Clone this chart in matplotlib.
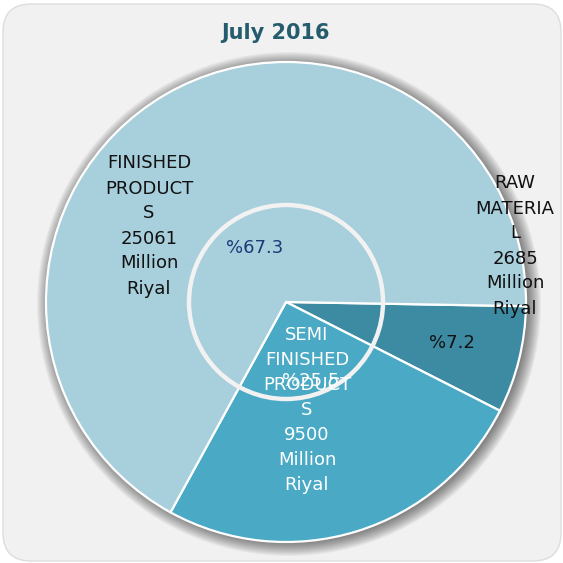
import numpy as np
import matplotlib
matplotlib.use("Agg")
import matplotlib.pyplot as plt
from matplotlib.patches import FancyBboxPatch, Circle

# ---- data ----
categories = ["RAW\nMATERIA\nL", "SEMI\nFINISHED\nPRODUCT\nS", "FINISHED\nPRODUCT\nS"]
values = [2685, 9500, 25061]
percent_labels = ["%7.2", "%25.5", "%67.3"]
unit = "Million\nRiyal"
title = "July 2016"
colors = ["#3d8ba3", "#4aaac5", "#a8cfdc"]
label_colors = ["#111111", "#ffffff", "#111111"]
pct_colors = ["#111111", "#ffffff", "#1b3a78"]

W = H = 563
fig = plt.figure(figsize=(5.63, 5.63), dpi=100)
fig.patch.set_facecolor("white")
ax = fig.add_axes([0, 0, 1, 1])

# background rounded panel
bg = FancyBboxPatch((3, 4), W - 5, H - 6, boxstyle="round,pad=0,rounding_size=28",
                    facecolor="#f1f1f1", edgecolor="#dddddd", linewidth=1.0, zorder=0)
ax.add_patch(bg)

cx, cy, R = 286, 302, 240

# soft shadow
for i in range(14):
    ax.add_patch(Circle((cx + 3, cy + 2), R + 12 - i, facecolor="black",
                        edgecolor="none", alpha=0.04, zorder=1))

# pie (y axis inverted -> counterclock=True draws clockwise visually)
wedges, _ = ax.pie(values, colors=colors, startangle=1, counterclock=True,
                   center=(cx, cy), radius=R, frame=True,
                   wedgeprops=dict(edgecolor="white", linewidth=1.6, zorder=2))
ax.set_xlim(0, W)
ax.set_ylim(H, 0)
ax.set_aspect("equal")
ax.axis("off")

# inner ring
ax.add_patch(Circle((cx, cy), 97, facecolor="none", edgecolor="#f2f2f2",
                    linewidth=3.2, zorder=4))

# percentages at wedge mid-angles
pct_r = [171, 83, 62]
for w, p, c, r in zip(wedges, percent_labels, pct_colors, pct_r):
    ang = np.deg2rad((w.theta1 + w.theta2) / 2)
    x = cx + r * np.cos(ang)
    y = cy + r * np.sin(ang)
    ax.text(x, y, p, ha="center", va="center", fontsize=13, color=c,
            family="DejaVu Sans", zorder=5)

# category labels
label_pos = [(515, 246), (307, 410), (149, 226)]
for (x, y), cat, v, c in zip(label_pos, categories, values, label_colors):
    ax.text(x, y, f"{cat}\n{v}\n{unit}", ha="center", va="center", fontsize=13,
            color=c, linespacing=1.5, family="DejaVu Sans", zorder=5)

ax.text(W / 2 - 6, 33, title, ha="center", va="center", fontsize=15,
        fontweight="bold", color="#245c6e", zorder=5)

fig.savefig("out.png", dpi=100)
